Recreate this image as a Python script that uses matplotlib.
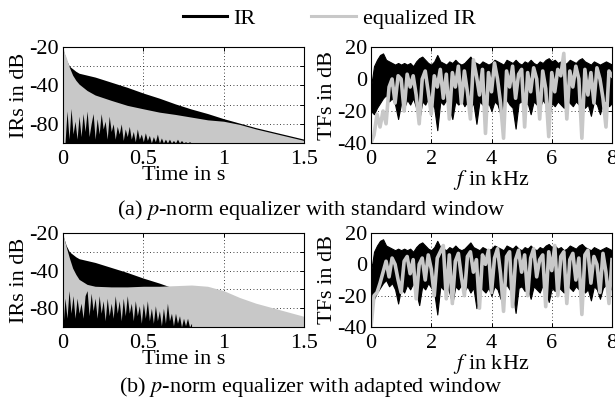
import matplotlib
matplotlib.use("Agg")
import matplotlib.pyplot as plt
from matplotlib.lines import Line2D

plt.rcParams['font.family'] = ['Liberation Serif', 'DejaVu Serif']
plt.rcParams['mathtext.fontset'] = 'stix'
plt.rcParams['axes.unicode_minus'] = False
plt.rcParams['font.size'] = 16

GRAY = '#c8c8c8'

# ---- impulse responses (envelopes in dB) ----
t_env = [0, 0.01, 0.02, 0.04, 0.06, 0.08, 0.1, 0.15, 0.2, 0.3, 0.4, 0.5,
         0.6, 0.7, 0.8, 0.9, 1.0, 1.1, 1.2, 1.3, 1.4, 1.5]
# original IR, same in both rows
ir_top = [-22, -26, -30, -35, -37, -39, -40.5, -42, -43.5, -47.5, -51.5, -56,
          -60, -64.5, -68.5, -72, -76, -79.5, -83, -86, -89, -92]
# equalized IR, standard window (a) and adapted window (b)
eq_top_a = [-20, -25, -28, -36, -42, -46, -49, -54, -57.5, -61.7, -65.6, -68.3,
            -70.9, -72.7, -74.8, -76.9, -78, -80.5, -84, -87, -90, -93]
eq_top_b = [-20, -26, -31, -40, -48, -53, -57, -61, -62.5, -63, -63, -62.5,
            -62.5, -62, -61.5, -62.5, -66, -71.5, -76, -79.5, -83, -86.5]

# where the equalized IR dips, the original one shows through at the bottom
t_gap = [i * 0.0125 for i in range(65)]
gap_a = [-95, -95, -70, -92, -68, -88, -78, -92, -74, -90, -72, -86, -70, -90,
         -80, -72, -92, -76, -88, -72, -84, -78, -92, -74, -86, -80, -92, -82,
         -88, -80, -93, -84, -90, -82, -92, -86, -94, -84, -92, -88, -94, -87,
         -93, -89, -95, -90, -94, -88, -95, -91, -95, -92, -95, -92, -95, -93,
         -95, -92, -95, -93, -95, -94, -95, -94, -95]
gap_b = [-95, -72, -88, -66, -84, -70, -88, -72, -84, -76, -88, -70, -66, -86,
         -68, -82, -72, -88, -70, -84, -74, -90, -72, -86, -76, -88, -70, -84,
         -74, -90, -72, -86, -70, -84, -76, -90, -74, -86, -78, -92, -76, -88,
         -74, -90, -80, -92, -78, -90, -82, -94, -80, -92, -76, -90, -84, -94,
         -84, -92, -86, -95, -88, -94, -88, -95, -92]

# ---- transfer functions in dB, 0.1 kHz steps ----
f_khz = [i * 0.1 for i in range(81)]
tf_top = [-5, 8, 12, 15, 16, 12, 11, 10, 9, 10,
          9, 10, 9, 10, 8, 11, 13, 14, 12, 10,
          9, 11, 15, 11, 10, 9, 11, 10, 12, 10,
          9, 10, 12, 14, 11, 10, 9, 11, 10, 9,
          10, 12, 11, 10, 9, 12, 11, 10, 12, 10,
          9, 11, 10, 12, 10, 9, 11, 10, 12, 13,
          11, 12, 10, 11, 9, 10, 12, 11, 10, 12,
          13, 11, 10, 9, 11, 10, 9, 10, 11, 10, 9]
tf_bot = [-20, -22, -18, -15, -12, -10, -14, -12, -16, -25,
          -15, -18, -13, -16, -12, -18, -26, -14, -16, -12,
          -15, -18, -32, -14, -16, -13, -18, -25, -14, -16,
          -13, -17, -14, -18, -15, -28, -14, -16, -18, -15,
          -20, -14, -16, -22, -15, -13, -16, -18, -31, -15,
          -14, -17, -15, -22, -14, -16, -18, -13, -16, -24,
          -15, -17, -14, -16, -18, -13, -15, -17, -14, -16,
          -15, -18, -16, -23, -14, -16, -22, -15, -13, -17, -15]
tf_eq_a = [-40, -35, -22, -30, -20, -28, -5, 0, -15, 2,
           0, -20, 3, -5, 2, -10, -28, 0, 5, -8,
           -22, 2, -5, 6, -12, 3, -25, 4, -5, 8,
           -15, 5, -8, -25, 12, 2, -10, 6, -34, 4,
           -8, 10, 0, -15, -37, 5, -5, 8, -12, 3,
           6, -30, 4, -8, 7, 0, -25, 5, -6, -36,
           4, -8, 6, 2, 16, -25, 5, -5, 8, 0,
           -37, 6, -10, 4, -15, 7, 0, -12, -30, 5, 2]
tf_eq_b = [-40, -20, -18, -12, -5, 2, -8, 4, 0, -10,
           -18, 2, 5, -6, 3, -22, 0, 4, -10, 6,
           -3, -20, 4, 8, 12, -22, 6, -25, 2, 7,
           -8, -20, 5, 8, -5, 3, -28, 6, 0, 9,
           -18, 4, 10, -6, -30, 5, 8, -27, 3, 9,
           -5, 6, -20, 4, 10, -8, 3, 6, -27, 8,
           -4, 12, -20, 5, 8, -25, 3, 7, -10, 4,
           -32, 6, 9, -12, 5, 0, -18, 7, -5, -25, 3]

captions = [r'(a) $p$-norm equalizer with standard window',
            r'(b) $p$-norm equalizer with adapted window']

fig = plt.figure(figsize=(6.15, 4.01), dpi=100)
W, H = 615.0, 401.0


def axes_px(x0, y0, x1, y1):
    return fig.add_axes([x0 / W, 1 - y1 / H, (x1 - x0) / W, (y1 - y0) / H])


def style(ax):
    ax.tick_params(direction='in', top=True, right=True, length=3, width=0.7,
                   pad=3, labelsize=16)
    ax.tick_params(axis='x', pad=5)
    ax.grid(True, color='black', linestyle=(0, (1, 3)), linewidth=0.6)
    ax.set_axisbelow(True)
    for s in ax.spines.values():
        s.set_linewidth(0.8)


rows = [(47, 143, eq_top_a, gap_a, tf_eq_a, 210),
        (233, 327, eq_top_b, gap_b, tf_eq_b, 387)]

for r, (ytop, ybot, eq_top, gap, tf_eq, ycap) in enumerate(rows):
    ax = axes_px(63, ytop, 304, ybot)
    ax.fill_between(t_env, -95, ir_top, color='black', linewidth=0)
    ax.fill_between(t_env, -95, eq_top, color=GRAY, linewidth=0)
    ax.fill_between(t_gap, -95, gap, color='black', linewidth=0)
    ax.set_xlim(0, 1.5)
    ax.set_ylim(-95, -20)
    ax.set_xticks([0, 0.5, 1, 1.5])
    ax.set_xticklabels(['0', '0.5', '1', '1.5'])
    ax.set_yticks([-20, -35, -50, -65, -80, -95])
    ax.set_yticklabels(['-20', '', '-40', '', '-80', ''])
    style(ax)
    ax.set_ylabel('IRs in dB', labelpad=0)
    ax.set_xlabel('Time in s', labelpad=-2)

    ax2 = axes_px(371, ytop, 612, ybot)
    ax2.fill_between(f_khz, tf_bot, tf_top, color='black', linewidth=0.8,
                     edgecolor='black')
    ax2.plot(f_khz, tf_eq, color=GRAY, linewidth=2.6)
    ax2.set_xlim(0, 8)
    ax2.set_ylim(-40, 20)
    ax2.set_xticks([0, 2, 4, 6, 8])
    ax2.set_yticks([-40, -20, 0, 20])
    style(ax2)
    ax2.set_ylabel('TFs in dB', labelpad=0)
    ax2.set_xlabel(r'$f$ in kHz', labelpad=-1)

    fig.text(311 / W, 1 - ycap / H, captions[r], ha='center', va='center',
             fontsize=16)

handles = [Line2D([], [], color='black', linewidth=2.2),
           Line2D([], [], color=GRAY, linewidth=2.2)]
fig.legend(handles, ['IR', 'equalized IR'], loc='center',
           bbox_to_anchor=(329 / W, 1 - 19 / H), ncol=2, frameon=False,
           handlelength=2.0, handletextpad=0.3, columnspacing=2.5,
           fontsize=16, borderpad=0, borderaxespad=0)

fig.savefig('out.png', dpi=100)
